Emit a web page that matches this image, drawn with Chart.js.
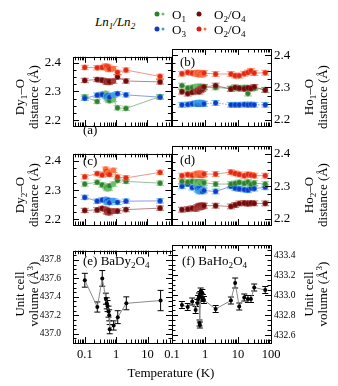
<!DOCTYPE html>
<html>
<head>
<meta charset="utf-8">
<script src="https://cdn.jsdelivr.net/npm/chart.js@4.4.0/dist/chart.umd.min.js"></script>
<style>
  body { margin: 0; background: #fff; width: 338px; height: 386px; position: relative; overflow: hidden; }
  canvas { position: absolute; }
  .t { position: absolute; font-family: "Liberation Serif", serif; color: #000; white-space: nowrap; font-size: 13px; line-height: 13px; }
  .rot { transform: translate(-50%, -50%) rotate(-90deg); text-align: center; line-height: 14px; }
  sub { font-size: 70%; vertical-align: -3px; line-height: 0; }
  sup { font-size: 70%; vertical-align: 5px; line-height: 0; }
  .dot { position: absolute; border-radius: 50%; transform: translate(-50%, -50%); }
</style>
</head>
<body>
<canvas id="pa" width="176" height="121" style="left:0;top:37px"></canvas>
<canvas id="pb" width="188" height="121" style="left:150px;top:37px"></canvas>
<canvas id="pc" width="176" height="123" style="left:0;top:134px"></canvas>
<canvas id="pd" width="188" height="123" style="left:150px;top:134px"></canvas>
<canvas id="pe" width="176" height="132" style="left:0;top:233px"></canvas>
<canvas id="pf" width="188" height="132" style="left:150px;top:233px"></canvas>

<div class="t" style="left:95px;top:15px;font-style:italic">Ln<sub>1</sub>/Ln<sub>2</sub></div>
<div class="dot" style="left:157px;top:14px;width:5px;height:5px;background:#2f7f2f"></div>
<div class="dot" style="left:163px;top:14px;width:3px;height:3px;background:#6cc06c"></div>
<div class="t" style="left:172px;top:8px">O<sub>1</sub></div>
<div class="dot" style="left:199px;top:14px;width:5px;height:5px;background:#6e0b0b"></div>
<div class="t" style="left:214px;top:8px">O<sub>2</sub>/O<sub>4</sub></div>
<div class="dot" style="left:157px;top:29px;width:5px;height:5px;background:#1438c8"></div>
<div class="dot" style="left:163px;top:29px;width:3px;height:3px;background:#3ca0e8"></div>
<div class="t" style="left:172px;top:23px">O<sub>3</sub></div>
<div class="dot" style="left:199px;top:29px;width:5px;height:5px;background:#d81e14"></div>
<div class="dot" style="left:205px;top:29px;width:3px;height:3px;background:#ff7040"></div>
<div class="t" style="left:214px;top:23px">O<sub>2</sub>/O<sub>4</sub></div>

<div class="t rot" style="left:27px;top:97px">Dy<sub>1</sub>–O<br>distance (Å)</div>
<div class="t rot" style="left:27px;top:195px">Dy<sub>2</sub>–O<br>distance (Å)</div>
<div class="t rot" style="left:27px;top:294px">Unit cell<br>volume (Å<sup>3</sup>)</div>
<div class="t rot" style="left:316px;top:97px">Ho<sub>1</sub>–O<br>distance (Å)</div>
<div class="t rot" style="left:316px;top:195px">Ho<sub>2</sub>–O<br>distance (Å)</div>
<div class="t rot" style="left:316px;top:294px">Unit cell<br>volume (Å<sup>3</sup>)</div>

<div class="t" style="left:83px;top:123px">(a)</div>
<div class="t" style="left:180px;top:55px">(b)</div>
<div class="t" style="left:83px;top:154px">(c)</div>
<div class="t" style="left:180px;top:153px">(d)</div>
<div class="t" style="left:83px;top:254px">(e) BaDy<sub>2</sub>O<sub>4</sub></div>
<div class="t" style="left:182px;top:254px">(f) BaHo<sub>2</sub>O<sub>4</sub></div>
<div class="t" style="left:171px;top:372px;transform:translate(-50%,-50%)">Temperature (K)</div>

<script>
// temperatures (K)
const tempsDy = [0.1, 0.25, 0.36, 0.47, 0.5, 0.53, 0.57, 0.6, 0.62, 0.83, 1.12, 2.1, 26];
const tempsHo = [0.2, 0.3, 0.41, 0.52, 0.59, 0.62, 0.66, 0.68, 0.7, 0.72, 0.74, 0.78, 0.83, 0.86, 0.93, 2.1, 6.1, 8.2, 10.9, 15.5, 20, 24.7, 31, 67];

// Dy1-O distances (A)
const dy1O4 = [2.383, 2.382, 2.383, 2.388, 2.386, 2.380, 2.384, 2.376, 2.378, 2.379, 2.366, 2.374, 2.352];
const dy1O2 = [2.338, 2.341, 2.339, 2.336, 2.333, 2.332, 2.335, 2.331, 2.334, 2.336, 2.350, 2.336, 2.333];
const dy1O3 = [2.276, 2.287, 2.289, 2.285, 2.283, 2.281, 2.286, 2.284, 2.280, 2.287, 2.292, 2.288, 2.280];
const dy1O1 = [2.281, 2.265, 2.290, 2.293, 2.282, 2.274, 2.278, 2.270, 2.268, 2.272, 2.243, 2.241, 2.282];

// Dy2-O distances
const dy2O4 = [2.346, 2.357, 2.352, 2.372, 2.365, 2.360, 2.356, 2.362, 2.354, 2.368, 2.345, 2.342, 2.361];
const dy2O1 = [2.321, 2.327, 2.318, 2.312, 2.308, 2.305, 2.310, 2.306, 2.315, 2.321, 2.333, 2.330, 2.324];
const dy2O3 = [2.275, 2.262, 2.266, 2.268, 2.262, 2.258, 2.265, 2.260, 2.257, 2.264, 2.258, 2.262, 2.263];
const dy2O2 = [2.230, 2.232, 2.237, 2.234, 2.228, 2.224, 2.230, 2.222, 2.226, 2.228, 2.228, 2.233, 2.238];

// Ho1-O distances
const ho1O4 = [2.343, 2.347, 2.345, 2.343, 2.346, 2.344, 2.342, 2.346, 2.341, 2.345, 2.343, 2.340, 2.344, 2.342, 2.345, 2.342, 2.342, 2.337, 2.337, 2.343, 2.347, 2.352, 2.345, 2.346];
const ho1O1 = [2.306, 2.298, 2.300, 2.302, 2.298, 2.303, 2.300, 2.297, 2.301, 2.299, 2.303, 2.300, 2.298, 2.302, 2.300, 2.300, 2.297, 2.300, 2.296, 2.300, 2.281, 2.297, 2.298, 2.293];
const ho1O2 = [2.287, 2.281, 2.285, 2.288, 2.290, 2.292, 2.287, 2.294, 2.291, 2.296, 2.293, 2.298, 2.295, 2.300, 2.302, 2.306, 2.295, 2.300, 2.298, 2.296, 2.299, 2.297, 2.302, 2.292];
const ho1O3 = [2.246, 2.247, 2.249, 2.251, 2.248, 2.252, 2.250, 2.253, 2.249, 2.252, 2.250, 2.251, 2.248, 2.250, 2.249, 2.252, 2.246, 2.246, 2.246, 2.247, 2.246, 2.247, 2.246, 2.246];

// Ho2-O distances
const ho2O4 = [2.333, 2.336, 2.334, 2.337, 2.339, 2.336, 2.338, 2.340, 2.335, 2.338, 2.336, 2.339, 2.334, 2.337, 2.338, 2.338, 2.344, 2.340, 2.337, 2.333, 2.337, 2.335, 2.333, 2.333];
const ho2O1 = [2.315, 2.313, 2.315, 2.312, 2.314, 2.310, 2.313, 2.311, 2.314, 2.312, 2.310, 2.313, 2.312, 2.309, 2.311, 2.307, 2.307, 2.309, 2.312, 2.309, 2.313, 2.306, 2.310, 2.307];
const ho2O3 = [2.300, 2.307, 2.296, 2.300, 2.292, 2.288, 2.295, 2.284, 2.290, 2.286, 2.293, 2.288, 2.284, 2.290, 2.287, 2.284, 2.300, 2.294, 2.292, 2.290, 2.288, 2.294, 2.293, 2.297];
const ho2O2 = [2.2275, 2.229, 2.232, 2.230, 2.236, 2.234, 2.238, 2.235, 2.240, 2.236, 2.239, 2.237, 2.241, 2.238, 2.240, 2.240, 2.2375, 2.242, 2.2467, 2.248, 2.246, 2.248, 2.247, 2.247];
const distErr = 0.0075;

// unit cell volumes (A^3)
const volDy = [437.58, 437.29, 437.60, 437.38, 437.33, 437.30, 437.24, 437.20, 437.05, 437.09, 437.18, 437.33, 437.36];
const volDyErr = [0.075, 0.055, 0.085, 0.06, 0.06, 0.06, 0.06, 0.06, 0.05, 0.05, 0.07, 0.07, 0.11];
const volHo = [432.90, 432.88, 432.935, 432.85, 432.92, 432.96, 432.985, 432.72, 432.70, 433.00, 433.035, 432.98, 433.02, 432.97, 432.95, 432.86, 432.945, 433.12, 432.885, 432.975, 432.96, 432.96, 433.075, 433.05];
const volHoErr = [0.035, 0.035, 0.035, 0.035, 0.035, 0.035, 0.035, 0.03, 0.03, 0.035, 0.035, 0.035, 0.035, 0.035, 0.035, 0.035, 0.035, 0.05, 0.035, 0.035, 0.035, 0.035, 0.035, 0.035];

// tick labels
const xLabelsDy = [0.1, 1, 10];
const xLabelsHo = [0.1, 1, 10, 100];
const distTicks = [2.2, 2.3, 2.4];
const volDyTicks = [437.0, 437.2, 437.4, 437.6, 437.8];
const volHoTicks = [432.6, 432.8, 433.0, 433.2, 433.4];

const FONT = 'Liberation Serif';
const COL = {
  green: ['#2f7f2f', '#6cc06c'],
  dark: ['#6e0b0b', '#a83a3a'],
  blue: ['#1438c8', '#3ca0e8'],
  red: ['#e0281a', '#ff7040']
};

function alpha(hex, a) {
  const n = parseInt(hex.slice(1), 16);
  return `rgba(${n >> 16},${(n >> 8) & 255},${n & 255},${a})`;
}

const errorBars = {
  id: 'errorBars',
  beforeDatasetsDraw(chart) {
    const { ctx, scales: { y } } = chart;
    ctx.save();
    chart.data.datasets.forEach((ds, i) => {
      const meta = chart.getDatasetMeta(i);
      ctx.strokeStyle = ds.errColor;
      ctx.lineWidth = 1;
      ctx.beginPath();
      meta.data.forEach((pt, j) => {
        const e = Array.isArray(ds.errors) ? ds.errors[j] : ds.errors;
        const v = ds.data[j].y;
        const y0 = y.getPixelForValue(v - e), y1 = y.getPixelForValue(v + e);
        ctx.moveTo(pt.x, y0); ctx.lineTo(pt.x, y1);
        ctx.moveTo(pt.x - ds.cap, y0); ctx.lineTo(pt.x + ds.cap, y0);
        ctx.moveTo(pt.x - ds.cap, y1); ctx.lineTo(pt.x + ds.cap, y1);
      });
      ctx.stroke();
    });
    ctx.restore();
  }
};

const frame = {
  id: 'frame',
  afterDraw(chart, args, o) {
    const { ctx, chartArea: a, scales: { x, y } } = chart;
    ctx.save();
    ctx.strokeStyle = '#000';
    ctx.lineWidth = 1;
    ctx.beginPath();
    for (let e = Math.floor(Math.log10(x.min)); e <= Math.ceil(Math.log10(x.max)); e++) {
      for (let k = 1; k < 10; k++) {
        const v = k * Math.pow(10, e);
        if (v < x.min || v > x.max) continue;
        const px = Math.round(x.getPixelForValue(v)) + 0.5;
        const L = k === 1 ? 6 : 3.5;
        ctx.moveTo(px, a.top); ctx.lineTo(px, a.top + L);
        ctx.moveTo(px, a.bottom); ctx.lineTo(px, a.bottom - L);
      }
    }
    const n0 = Math.ceil(y.min / o.minor - 1e-6), n1 = Math.floor(y.max / o.minor + 1e-6);
    for (let i = n0; i <= n1; i++) {
      const v = i * o.minor;
      const r = v / o.major;
      const L = Math.abs(r - Math.round(r)) < 1e-6 ? 6 : 3.5;
      const py = Math.round(y.getPixelForValue(v)) + 0.5;
      ctx.moveTo(a.left, py); ctx.lineTo(a.left + L, py);
      ctx.moveTo(a.right, py); ctx.lineTo(a.right - L, py);
    }
    ctx.stroke();
    ctx.strokeRect(Math.round(a.left) + 0.5, Math.round(a.top) + 0.5, Math.round(a.right - a.left), Math.round(a.bottom - a.top));
    ctx.restore();
  }
};

function distSeries(temps, vals, c, dashed) {
  return {
    data: temps.map((t, i) => ({ x: t, y: vals[i] })),
    borderColor: alpha(c[0], 0.55),
    borderWidth: 0.9,
    borderDash: dashed ? [1.5, 1.5] : [],
    pointRadius: 2.6,
    pointBackgroundColor: temps.map((t, i) => (t > 0.45 && t < 0.95 && i % 2) ? c[1] : c[0]),
    pointBorderColor: alpha(c[1], 0.9),
    pointBorderWidth: 0.6,
    errors: distErr,
    errColor: alpha(c[1], 0.7),
    cap: 4
  };
}

function volSeries(temps, vals, errs) {
  return {
    data: temps.map((t, i) => ({ x: t, y: vals[i] })),
    borderColor: '#8a8a8a',
    borderWidth: 1,
    pointRadius: 2,
    pointBackgroundColor: '#000',
    pointBorderColor: '#000',
    pointBorderWidth: 0,
    errors: errs,
    errColor: '#000',
    cap: 3
  };
}

function panel(id, cfg) {
  const right = cfg.side === 'right';
  new Chart(document.getElementById(id), {
    type: 'line',
    data: { datasets: cfg.datasets },
    options: {
      responsive: false,
      animation: false,
      layout: { padding: { left: right ? 22 : 0, right: right ? 0 : 4, top: 12, bottom: cfg.xLabels ? 2 : 12 } },
      plugins: { legend: { display: false }, tooltip: { enabled: false }, frame: { minor: cfg.minor, major: cfg.major } },
      scales: {
        x: {
          type: 'logarithmic', min: cfg.xMin, max: cfg.xMax, bounds: 'data',
          display: !!cfg.xLabels,
          grid: { display: false, drawTicks: false }, border: { display: false },
          afterBuildTicks: s => { s.ticks = (cfg.xLabels || []).map(v => ({ value: v })); },
          ticks: { autoSkip: false, maxRotation: 0, padding: 4, color: '#000', font: { family: FONT, size: 12.5 }, callback: v => String(v) },
          afterFit: s => { s.height = 20; }
        },
        y: {
          type: 'linear', position: cfg.side, min: cfg.yMin, max: cfg.yMax, bounds: 'data',
          grid: { display: false, drawTicks: false }, border: { display: false },
          afterBuildTicks: s => { s.ticks = cfg.yLabels.map(v => ({ value: v })); },
          ticks: { autoSkip: false, padding: right ? 3 : 12, color: '#000', font: { family: FONT, size: cfg.ySize }, callback: v => v.toFixed(1) },
          afterFit: s => { s.width = right ? 67 : 73; }
        }
      }
    },
    plugins: [errorBars, frame]
  });
}

const dyX = { xMin: 0.042, xMax: 60 };
const hoX = { xMin: 0.1, xMax: 100 };

panel('pa', { ...dyX, side: 'left', yMin: 2.18, yMax: 2.42, yLabels: distTicks, ySize: 13, minor: 0.025, major: 0.1,
  datasets: [distSeries(tempsDy, dy1O4, COL.red), distSeries(tempsDy, dy1O2, COL.dark), distSeries(tempsDy, dy1O3, COL.blue), distSeries(tempsDy, dy1O1, COL.green)] });
panel('pb', { ...hoX, side: 'right', yMin: 2.18, yMax: 2.42, yLabels: distTicks, ySize: 13, minor: 0.025, major: 0.1,
  datasets: [distSeries(tempsHo, ho1O4, COL.red), distSeries(tempsHo, ho1O2, COL.dark), distSeries(tempsHo, ho1O1, COL.green), distSeries(tempsHo, ho1O3, COL.blue, true)] });
panel('pc', { ...dyX, side: 'left', yMin: 2.18, yMax: 2.425, yLabels: distTicks, ySize: 13, minor: 0.025, major: 0.1,
  datasets: [distSeries(tempsDy, dy2O4, COL.red), distSeries(tempsDy, dy2O1, COL.green), distSeries(tempsDy, dy2O3, COL.blue), distSeries(tempsDy, dy2O2, COL.dark)] });
panel('pd', { ...hoX, side: 'right', yMin: 2.18, yMax: 2.425, yLabels: distTicks, ySize: 13, minor: 0.025, major: 0.1,
  datasets: [distSeries(tempsHo, ho2O4, COL.red), distSeries(tempsHo, ho2O1, COL.green), distSeries(tempsHo, ho2O3, COL.blue), distSeries(tempsHo, ho2O2, COL.dark)] });
panel('pe', { ...dyX, side: 'left', yMin: 436.9, yMax: 437.9, yLabels: volDyTicks, ySize: 9.5, minor: 0.05, major: 0.2, xLabels: xLabelsDy,
  datasets: [volSeries(tempsDy, volDy, volDyErr)] });
panel('pf', { ...hoX, side: 'right', yMin: 432.52, yMax: 433.5, yLabels: volHoTicks, ySize: 9.5, minor: 0.05, major: 0.2, xLabels: xLabelsHo,
  datasets: [volSeries(tempsHo, volHo, volHoErr)] });
</script>
</body>
</html>
